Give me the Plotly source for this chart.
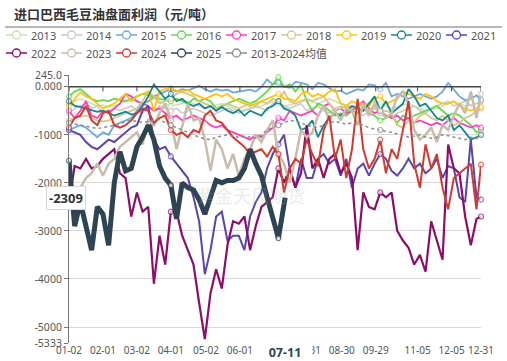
import pandas as pd
import plotly.graph_objects as go

# ---------------- data ----------------
dates = list(pd.date_range("2024-01-02", periods=73, freq="5D").strftime("%Y-%m-%d")) + ["2024-12-31"]
dates_2025 = dates[:38] + ["2024-07-11"]

tick_dates = ["2024-01-02", "2024-02-01", "2024-03-02", "2024-04-01", "2024-05-02", "2024-06-01",
              "2024-07-31", "2024-08-30", "2024-09-29", "2024-11-05", "2024-12-05", "2024-12-31"]
tick_text = ["01-02", "02-01", "03-02", "04-01", "05-02", "06-01",
             "07-31", "08-30", "09-29", "11-05", "12-05", "12-31"]

y_tickvals = [245, 0, -1000, -2000, -3000, -4000, -5000, -5333]
y_ticktext = ["245.0", "0.000", "-1000", "-2000", "-3000", "-4000", "-5000", "-5333"]

y2013 = [-350,-300,-250,-300,-350,-400,-380,-420,-400,-350,
         -300,-280,-320,-350,-300,-250,-300,-350,-400,-380,
         -350,-300,-350,-400,-450,-420,-380,-350,-400,-450,
         -500,-480,-450,-420,-400,-350,-300,-350,-400,-380,
         -350,-300,-280,-320,-350,-300,-250,-300,-350,-380,
         -400,-420,-380,-350,-300,-350,-400,-450,-420,-380,
         -350,-400,-450,-500,-480,-450,-400,-350,-300,-350,
         -400,-380,-350,-300]
y2014 = [-550,-450,-400,-350,-450,-400,-550,-500,-450,-500,
         -450,-400,-500,-550,-450,-500,-400,-450,-500,-450,
         -550,-500,-450,-500,-550,-600,-550,-500,-450,-500,
         -550,-500,-450,-400,-450,-500,-350,-300,-400,-450,
         -400,-350,-500,-450,-400,-500,-550,-450,-400,-450,
         -500,-550,-600,-500,-450,-550,-600,-650,-550,-500,
         -450,-400,-500,-550,-450,-400,-350,-300,-400,-350,
         -300,-400,-350,-300]
y2015 = [-900,-850,-800,-850,-950,-1050,-950,-1000,-800,-750,
         -700,-650,-500,-350,-300,-200,-150,-100,-50,-100,
         -50,-80,-30,20,-50,-100,-50,-80,-60,-120,
         -100,-80,-60,-100,0,150,50,80,0,-20,
         100,80,50,-50,80,50,-20,-100,-80,-150,
         -100,-50,-80,50,30,-50,80,-200,-150,-200,
         -250,-200,-150,-200,-250,-200,-100,80,-50,-200,
         -280,-250,-180,-270]
y2016 = [-200,-100,-50,-150,-250,-300,-280,-300,-250,-280,
         -300,-250,-200,-150,-180,-200,-250,-280,-300,-250,
         -300,-350,-250,-300,-250,-300,-450,-400,-350,-300,
         -250,-300,-350,-300,-200,-100,50,200,0,50,
         -100,50,-300,-500,-350,-400,-500,-600,-550,-600,
         -500,-550,-450,-550,-600,-700,-650,-600,-750,-600,
         -650,-600,-550,-500,-450,-400,-500,-600,-550,-600,
         -700,-800,-950,-900]
y2017 = [-500,-650,-500,-300,-600,-650,-500,-550,-450,-350,
         -150,-200,-300,-350,-400,-500,-450,-550,-650,-600,
         -700,-650,-600,-650,-700,-800,-850,-800,-900,-950,
         -1000,-1050,-1100,-1000,-1050,-950,-850,-650,-700,-500,
         -550,-600,-550,-500,-600,-400,-350,-500,-450,-550,
         -500,-400,-300,-450,-550,-500,-600,-650,-600,-700,
         -650,-750,-700,-750,-800,-750,-800,-700,-650,-750,
         -800,-850,-800,-850]
y2018 = [-700,-650,-620,-600,-650,-700,-720,-700,-650,-600,
         -550,-500,-450,-300,-100,-200,-350,-300,-250,-150,
         -100,-150,-200,-300,-350,-400,-450,-400,-350,-400,
         -450,-400,-350,-400,-300,-350,-250,-300,-100,-300,
         -350,-300,-250,-300,-250,-200,-350,-500,-450,-400,
         -450,-400,-350,-500,-400,-550,-500,-550,-800,-850,
         -700,-750,-600,-550,-650,-700,-600,-700,-800,-750,
         -650,-600,-500,-450]
y2019 = [-400,-250,-120,-200,-250,-350,-450,-400,-350,-250,
         -150,-300,-200,-150,-100,-500,-100,-50,-30,-80,
         -100,-60,-150,-200,-250,-200,-150,-200,-150,-250,
         -300,-350,-400,-350,-300,-250,-200,-150,-250,-250,
         -300,-150,-100,-200,-150,-200,-100,-50,-350,-400,
         -300,-350,-350,-400,-250,-200,-350,-300,-250,-100,
         -150,-200,-250,-150,-200,-300,-350,-350,-300,-400,
         -450,-500,-450,-420]
y2020 = [-300,-400,-420,-450,-480,-520,-500,-550,-600,-560,
         -520,-580,-550,-400,-200,50,-100,-250,-150,-300,
         -250,-350,-400,-350,-450,-400,-500,-420,-500,-550,
         -480,-600,-500,-550,-600,-450,-400,-300,-450,-500,
         -600,-900,-850,-700,-1050,-800,-650,-550,-600,-500,
         -400,-450,-500,-350,-200,-500,-300,-550,-450,-350,
         -50,-200,-400,-350,-500,-650,-700,-600,-900,-800,
         -950,-1100,-1050,-1000]
y2021 = [-900,-950,-1000,-1150,-1250,-1300,-1200,-1100,-1150,-1050,
         -950,-850,-800,-500,-400,-1100,-1300,-1250,-1450,-1600,
         -1750,-1900,-2300,-2800,-3900,-3400,-2700,-2600,-3200,-3100,
         -3100,-3400,-2700,-2400,-2200,-1700,-1400,-1200,-1000,-1700,
         -2100,-1500,-1900,-1900,-1500,-1400,-1600,-1500,-1850,-1500,
         -2100,-1700,-1600,-1850,-1600,-1400,-1500,-1750,-1850,-1700,
         -1500,-1700,-1600,-1800,-1700,-1500,-1900,-1650,-1700,-2300,
         -2400,-1100,-2300,-2350]
y2022 = [-2400,-1650,-1700,-1500,-1700,-1650,-1500,-1400,-1300,-1800,
         -1900,-2700,-2200,-2600,-2500,-4100,-3100,-3700,-2600,-2600,
         -3100,-3400,-3700,-4500,-5250,-4300,-3800,-4200,-3300,-2800,
         -2850,-2700,-3400,-2900,-2500,-2400,-2300,-1700,-2000,-1700,
         -2100,-1800,-800,-1700,-1500,-1900,-1500,-1400,-1800,-1600,
         -1900,-3400,-2200,-2500,-2550,-2200,-2300,-2200,-3000,-3200,
         -3350,-3700,-3500,-3850,-2800,-3200,-3600,-1200,-1700,-1800,
         -2700,-3300,-2750,-2700]
y2023 = [-2200,-2150,-2100,-1900,-1800,-1600,-1850,-1600,-1500,-1250,
         -1150,-1050,-950,-1200,-700,-800,-550,-350,-700,-1300,
         -800,-350,-700,-650,-1100,-1750,-1100,-1300,-1700,-1400,
         -1850,-1500,-1300,-1000,-1150,-900,-700,-1400,-1600,-2000,
         -1500,-900,-1050,-950,-600,-400,-700,-500,-700,-450,
         -500,-800,-350,-600,-350,-500,-650,-550,-200,-100,
         -350,-900,-1100,-1000,-850,-1150,-800,-900,-600,-350,
         -550,-100,-650,-150]
y2024 = [-850,-650,-600,-400,-700,-800,-550,-500,-800,-850,
         -800,-700,-550,-450,-500,-750,-650,-600,-900,-1000,
         -950,-1050,-900,-950,-600,-500,-700,-750,-900,-1050,
         -1150,-1250,-1400,-1350,-1300,-1450,-1250,-1400,-2200,-1700,
         -1500,-1600,-1100,-1400,-1650,-900,-600,-1500,-1100,-1900,
         -1300,-250,-1300,-1700,-1500,-1100,-1800,-1300,-1500,-900,
         -300,-1600,-2100,-1200,-1700,-1400,-2100,-2550,-1900,-1800,
         -1700,-1600,-2550,-1620]
y2025 = [-1540,-2900,-2400,-2850,-3400,-2500,-2650,-3300,-2000,-1350,
         -1750,-1700,-1250,-1050,-800,-1100,-1650,-1900,-2050,-2750,
         -2000,-2100,-2150,-2350,-2650,-2300,-1950,-2000,-1950,-1950,
         -1900,-1700,-1300,-1600,-1850,-2300,-2700,-3150,-2309]
y_mean = [-750,-780,-800,-820,-850,-870,-850,-830,-800,-780,
          -720,-700,-720,-740,-720,-700,-680,-750,-800,-850,
          -900,-950,-1000,-1050,-1080,-1100,-1050,-1020,-1000,-1030,
          -1050,-1030,-1050,-1070,-1000,-900,-850,-800,-750,-700,
          -720,-750,-800,-830,-850,-800,-750,-720,-750,-780,
          -750,-760,-800,-850,-880,-900,-920,-950,-980,-1000,
          -1050,-1020,-1000,-1050,-1070,-1050,-1000,-1020,-1050,-1080,
          -1100,-1050,-1080,-1000]

series_names = ["2013", "2014", "2015", "2016", "2017", "2018", "2019", "2020", "2021",
                "2022", "2023", "2024", "2025", "2013-2024均值"]
series_values = [y2013, y2014, y2015, y2016, y2017, y2018, y2019, y2020, y2021,
                 y2022, y2023, y2024, y2025, y_mean]

# ---------------- style ----------------
colors = ["#c6e2b3", "#c8c8c8", "#6fa8dc", "#66d94a", "#ff3dbf", "#d9c58a", "#ffc20e", "#16868f",
          "#5a44b0", "#8a0e6a", "#cbbcaa", "#cf3b30", "#2e4453", "#8c8c8c"]
widths = [1.5, 1.5, 1.8, 1.8, 1.8, 1.8, 1.8, 1.8, 2, 2.2, 2.5, 2, 5, 1.5]
marker_idx = {0, 18, 37, 55, 73}

FONT = "Noto Sans, Noto Sans CJK SC, sans-serif"
L, R, T, B, W, H = 69, 26, 75, 18, 507, 361
PW, PH = W - L - R, H - T - B


def px2paper_x(px):
    return (px - L) / PW


def px2paper_y(py):
    return (H - B - py) / PH


fig = go.Figure()
for name, vals, col, w in zip(series_names, series_values, colors, widths):
    xs = dates_2025 if name == "2025" else dates
    sizes = [5 if i in marker_idx else 0 for i in range(len(vals))]
    fig.add_trace(go.Scatter(
        x=xs, y=vals, name=name, mode="lines+markers",
        line=dict(color=col, width=w, dash="dot" if name.endswith("均值") else "solid"),
        marker=dict(size=sizes, color="white", line=dict(color=col, width=1.2)),
        cliponaxis=False, showlegend=False,
    ))

shapes = []
annotations = []

# zero axis line with ticks
shapes.append(dict(type="line", xref="paper", yref="y", x0=0, x1=1, y0=0, y1=0,
                   line=dict(color="#444", width=1.3), layer="above"))
for d in tick_dates:
    shapes.append(dict(type="line", xref="x", yref="y", x0=d, x1=d, y0=0, y1=-95,
                       line=dict(color="#444", width=1)))

# title + separator
annotations.append(dict(text="<b>进口巴西毛豆油盘面利润（元/吨）</b>", xref="paper", yref="paper",
                        x=px2paper_x(12), y=px2paper_y(13), xanchor="left", yanchor="middle",
                        showarrow=False, font=dict(family="Noto Sans CJK SC", size=13, color="#333")))
shapes.append(dict(type="line", xref="paper", yref="paper", x0=px2paper_x(5), x1=px2paper_x(502),
                   y0=px2paper_y(27), y1=px2paper_y(27), line=dict(color="#a0a0a0", width=1.5)))

# manual legend
for i, (name, col) in enumerate(zip(series_names, colors)):
    row, colno = divmod(i, 9)
    x0 = 6 + 55 * colno
    yc = 35 + 18 * row
    shapes.append(dict(type="line", xref="paper", yref="paper",
                       x0=px2paper_x(x0), x1=px2paper_x(x0 + 21), y0=px2paper_y(yc), y1=px2paper_y(yc),
                       line=dict(color=col, width=1.5)))
    shapes.append(dict(type="circle", xref="paper", yref="paper",
                       x0=px2paper_x(x0 + 6.5), x1=px2paper_x(x0 + 14.5),
                       y0=px2paper_y(yc + 4), y1=px2paper_y(yc - 4),
                       fillcolor="white", line=dict(color=col, width=1.3)))
    annotations.append(dict(text=name, xref="paper", yref="paper", x=px2paper_x(x0 + 23),
                            y=px2paper_y(yc), xanchor="left", yanchor="middle", showarrow=False,
                            font=dict(family=FONT, size=11, color="#555")))

# watermark
annotations.append(dict(text="紫金天风期货", xref="x", yref="y", x="2024-06-11", y=-2250,
                        showarrow=False, font=dict(family="Noto Sans CJK SC", size=18,
                                                   color="rgba(170,170,170,0.25)")))

# axis pointer labels
annotations.append(dict(text="<b>-2309</b>", xref="paper", yref="y", x=px2paper_x(46), y=-2309,
                        showarrow=False, bgcolor="white", bordercolor="#d8d8d8", borderwidth=1,
                        borderpad=2, font=dict(family=FONT, size=13, color="#333")))
annotations.append(dict(text="<b>07-11</b>", xref="x", yref="paper", x="2024-07-11", y=px2paper_y(352),
                        yanchor="middle", showarrow=False, bgcolor="white", borderpad=0, width=54,
                        font=dict(family=FONT, size=12.5, color="#2e4453")))

fig.update_layout(
    width=W, height=H, margin=dict(l=L, r=R, t=T, b=B, autoexpand=False),
    paper_bgcolor="white", plot_bgcolor="white",
    shapes=shapes, annotations=annotations, showlegend=False,
    font=dict(family=FONT, size=11, color="#555"),
    xaxis=dict(type="date", range=["2024-01-02", "2024-12-31"], tickvals=tick_dates, ticktext=tick_text,
               showgrid=False, zeroline=False, showline=False, ticks="", tickangle=0, automargin=False,
               tickfont=dict(family=FONT, size=10, color="#555")),
    yaxis=dict(range=[-5333, 245], tickvals=y_tickvals, ticktext=y_ticktext, automargin=False,
               showgrid=True, gridcolor="#d9d9d9", gridwidth=1, zeroline=False,
               showline=True, linecolor="#777", linewidth=1, ticks="outside", ticklen=4,
               tickcolor="#777", tickfont=dict(family=FONT, size=10.5, color="#555")),
)

fig.write_html("out.html", config={"displayModeBar": False},
               post_script="document.body.style.margin='0';document.body.style.overflow='hidden';")
